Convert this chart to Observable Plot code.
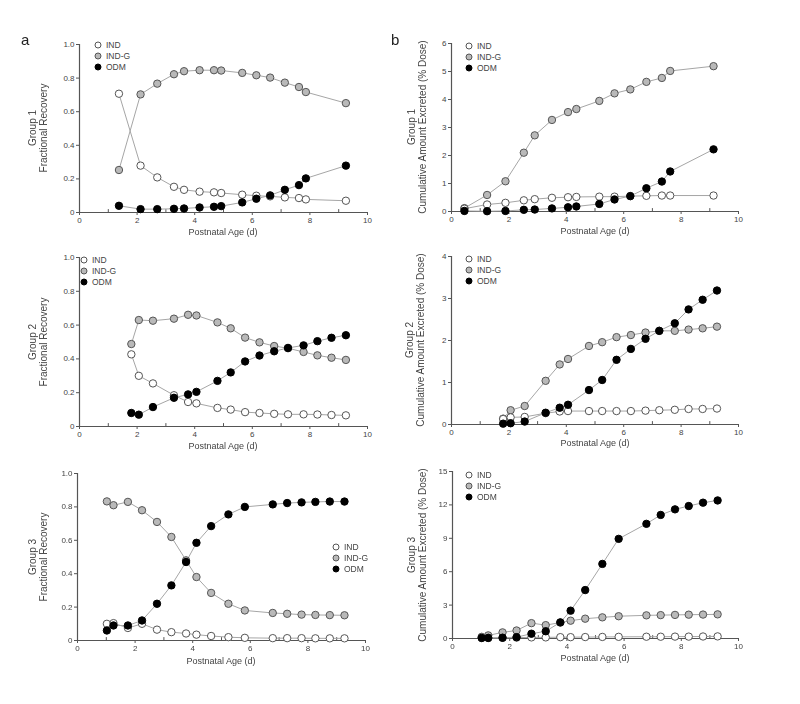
<!DOCTYPE html>
<html>
<head>
<meta charset="utf-8">
<script src="https://cdn.jsdelivr.net/npm/d3@7"></script>
<script src="https://cdn.jsdelivr.net/npm/@observablehq/plot@0.6"></script>
<style>
  html, body { margin: 0; padding: 0; background: #fff; }
  body { width: 800px; height: 704px; position: relative; overflow: hidden;
         font-family: Arial, "Liberation Sans", sans-serif; color: #444; }
  .panel { position: absolute; }
  .ylab { position: absolute; width: 200px; height: 22px; transform: rotate(-90deg);
          text-align: center; font-size: 10px; line-height: 11px; white-space: nowrap; color: #444; will-change: transform; }
  .xlab { position: absolute; width: 200px; text-align: center; font-size: 9px; line-height: 10px; color: #444; will-change: transform; }
  .leg { position: absolute; overflow: visible; }
  .letter { position: absolute; font-size: 15px; line-height: 15px; color: #222; will-change: transform; }
</style>
</head>
<body>
<script>
// ---------- data ----------
const seriesNames = ["IND", "IND-G", "ODM"];
const xTicks = [0, 2, 4, 6, 8, 10];
const xMinorTicks = [1, 3, 5, 7, 9];
const yTicksA = [0, 0.2, 0.4, 0.6, 0.8, 1.0];
const yTicksB1 = [0, 1, 2, 3, 4, 5, 6];
const yTicksB2 = [0, 1, 2, 3, 4];
const yTicksB3 = [0, 3, 6, 9, 12, 15];
const groupLabels = ["Group 1", "Group 2", "Group 3"];
const yTitleA = "Fractional Recovery";
const yTitleB = "Cumulative Amount Excreted (% Dose)";
const xTitle = "Postnatal Age (d)";

// Group 1 – fractional recovery (a)
const ageA1  = [1.37, 2.12, 2.70, 3.28, 3.63, 4.17, 4.67, 4.92, 5.65, 6.14, 6.62, 7.13, 7.62, 7.86, 9.25];
const indA1  = [0.707, 0.279, 0.209, 0.153, 0.135, 0.124, 0.120, 0.116, 0.106, 0.100, 0.096, 0.090, 0.086, 0.078, 0.070];
const indgA1 = [0.253, 0.703, 0.767, 0.823, 0.841, 0.847, 0.847, 0.845, 0.831, 0.817, 0.803, 0.773, 0.747, 0.717, 0.651];
const odmA1  = [0.040, 0.020, 0.020, 0.022, 0.024, 0.030, 0.034, 0.038, 0.060, 0.082, 0.102, 0.135, 0.163, 0.203, 0.279];

// Group 1 – cumulative amount (b)
const ageB1  = [0.45, 1.24, 1.88, 2.52, 2.90, 3.50, 4.06, 4.35, 5.15, 5.68, 6.23, 6.79, 7.33, 7.62, 9.13];
const indB1  = [0.10, 0.25, 0.31, 0.40, 0.44, 0.49, 0.51, 0.52, 0.53, 0.53, 0.55, 0.56, 0.57, 0.57, 0.57];
const indgB1 = [0.12, 0.59, 1.08, 2.10, 2.72, 3.27, 3.55, 3.66, 3.95, 4.22, 4.36, 4.63, 4.77, 5.02, 5.19];
const odmB1  = [0.02, 0.01, 0.02, 0.06, 0.07, 0.11, 0.15, 0.18, 0.27, 0.43, 0.55, 0.83, 1.07, 1.43, 2.22];

// Group 2 – fractional recovery (a)
const ageA2  = [1.80, 2.06, 2.55, 3.28, 3.77, 4.06, 4.79, 5.25, 5.75, 6.25, 6.76, 7.24, 7.78, 8.26, 8.75, 9.25];
const indA2  = [0.427, 0.300, 0.255, 0.185, 0.145, 0.137, 0.110, 0.100, 0.085, 0.080, 0.075, 0.072, 0.072, 0.071, 0.068, 0.066];
const indgA2 = [0.488, 0.630, 0.626, 0.638, 0.661, 0.657, 0.616, 0.581, 0.526, 0.498, 0.476, 0.463, 0.441, 0.421, 0.407, 0.394];
const odmA2  = [0.080, 0.070, 0.115, 0.170, 0.190, 0.205, 0.270, 0.320, 0.385, 0.420, 0.445, 0.465, 0.480, 0.505, 0.525, 0.540];

// Group 2 – cumulative amount (b)
const ageB2  = [1.80, 2.06, 2.55, 3.28, 3.77, 4.06, 4.79, 5.25, 5.75, 6.25, 6.76, 7.24, 7.78, 8.26, 8.75, 9.25];
const indB2  = [0.13, 0.17, 0.18, 0.27, 0.31, 0.32, 0.32, 0.32, 0.32, 0.32, 0.33, 0.34, 0.35, 0.37, 0.37, 0.38];
const indgB2 = [0.14, 0.34, 0.44, 1.04, 1.43, 1.56, 1.87, 1.96, 2.08, 2.13, 2.19, 2.23, 2.23, 2.26, 2.29, 2.33];
const odmB2  = [0.02, 0.03, 0.07, 0.28, 0.40, 0.47, 0.82, 1.06, 1.54, 1.80, 2.04, 2.23, 2.41, 2.74, 2.97, 3.19];

// Group 3 – fractional recovery (a)
const ageA3  = [1.02, 1.25, 1.75, 2.24, 2.76, 3.26, 3.77, 4.13, 4.64, 5.24, 5.81, 6.78, 7.28, 7.78, 8.26, 8.76, 9.27];
const indA3  = [0.100, 0.104, 0.075, 0.100, 0.065, 0.050, 0.042, 0.035, 0.027, 0.020, 0.016, 0.014, 0.014, 0.014, 0.013, 0.013, 0.013];
const indgA3 = [0.833, 0.810, 0.830, 0.780, 0.710, 0.620, 0.480, 0.380, 0.285, 0.220, 0.180, 0.165, 0.160, 0.155, 0.153, 0.152, 0.151];
const odmA3  = [0.060, 0.090, 0.090, 0.120, 0.220, 0.330, 0.470, 0.585, 0.685, 0.755, 0.800, 0.815, 0.823, 0.827, 0.830, 0.832, 0.832];

// Group 3 – cumulative amount (b)
const ageB3  = [1.02, 1.25, 1.75, 2.24, 2.76, 3.26, 3.77, 4.13, 4.64, 5.24, 5.81, 6.78, 7.28, 7.78, 8.26, 8.76, 9.27];
const indB3  = [0.05, 0.06, 0.06, 0.08, 0.10, 0.10, 0.12, 0.12, 0.13, 0.14, 0.15, 0.16, 0.16, 0.17, 0.17, 0.18, 0.19];
const indgB3 = [0.15, 0.28, 0.55, 0.72, 1.38, 1.20, 1.43, 1.60, 1.78, 1.90, 2.00, 2.08, 2.10, 2.12, 2.14, 2.15, 2.17];
const odmB3  = [0.05, 0.05, 0.07, 0.12, 0.43, 0.65, 1.45, 2.50, 4.35, 6.70, 8.95, 10.3, 11.1, 11.6, 11.9, 12.2, 12.4];

// ---------- styling ----------
const FILL = {"IND": "#ffffff", "IND-G": "#b9b9b9", "ODM": "#000000"};
const STROKE = {"IND": "#555555", "IND-G": "#555555", "ODM": "#000000"};
const AXIS = "#555";
const FONT = "Arial, 'Liberation Sans', sans-serif";
const fmtA = d => d === 0 ? "0" : d.toFixed(1);
const fmtB = d => String(d);
const upTick = {draw(context, l) { context.moveTo(0, 0); context.lineTo(0, -l); }};

function el(cls, text, style) {
  const d = document.createElement("div");
  d.className = cls;
  if (text != null) d.textContent = text;
  Object.assign(d.style, style);
  document.body.appendChild(d);
  return d;
}

function panel(cfg) {
  const {left, top, ml, pw, mt, ph, mb, age, ind, indg, odm, yDomain, yTicks, yFmt,
         group, yTitle, legend} = cfg;
  const width = 390;
  const height = mt + ph + mb;
  const rows = (name, vals) => age.map((a, i) => ({age: a, value: vals[i], s: name}));
  const dIND = rows("IND", ind), dINDG = rows("IND-G", indg), dODM = rows("ODM", odm);
  const dot = (data, s) => Plot.dot(data, {x: "age", y: "value", r: 3.7, fill: FILL[s], stroke: STROKE[s], strokeWidth: 1});
  const line = data => Plot.line(data, {x: "age", y: "value", stroke: "#a6a6a6", strokeWidth: 1});
  const chart = Plot.plot({
    width, height,
    marginLeft: ml, marginRight: width - ml - pw, marginTop: mt, marginBottom: mb,
    style: {background: "transparent", fontFamily: FONT, fontSize: "8px", color: "#444", overflow: "visible"},
    x: {domain: [0, 10]},
    y: {domain: yDomain},
    marks: [
      Plot.axisX({ticks: xTicks, tickSize: 3, tickPadding: 2, tickFormat: fmtB, label: null, stroke: AXIS}),
      Plot.vector(xMinorTicks, {x: d => d, y: () => yDomain[0], length: 3, anchor: "start", shape: upTick, stroke: AXIS, strokeWidth: 1}),
      Plot.axisY({ticks: yTicks, tickSize: 3, tickPadding: 2, tickFormat: yFmt, label: null, stroke: AXIS}),
      Plot.ruleX([0], {stroke: AXIS, strokeWidth: 1.2}),
      Plot.ruleY([yDomain[0]], {stroke: AXIS, strokeWidth: 1.2}),
      line(dIND), line(dINDG), line(dODM),
      dot(dINDG, "IND-G"), dot(dIND, "IND"), dot(dODM, "ODM")
    ]
  });
  chart.classList.add("panel");
  chart.style.left = left + "px";
  chart.style.top = top + "px";
  document.body.appendChild(chart);

  // y title (two lines, rotated)
  const cy = top + mt + ph / 2;
  const yl = el("ylab", null, {left: (left + cfg.ylabX - 100) + "px", top: (cy - 11) + "px"});
  const l1 = document.createElement("div"); l1.textContent = group; yl.appendChild(l1);
  const l2 = document.createElement("div"); l2.textContent = yTitle; yl.appendChild(l2);

  // x title
  el("xlab", xTitle, {left: (left + ml + pw / 2 - 100) + "px", top: (top + mt + ph + cfg.xlabDy - 5) + "px"});

  // legend (small SVG)
  const svg = d3.create("svg").attr("class", "leg").attr("width", 50).attr("height", 36)
    .style("left", (left + legend[0] - 5) + "px").style("top", (top + legend[1] - 6) + "px")
    .style("font-family", FONT).style("font-size", "8.5px");
  seriesNames.forEach((s, i) => {
    svg.append("circle").attr("cx", 5).attr("cy", 6 + 11 * i).attr("r", 3)
      .attr("fill", FILL[s]).attr("stroke", STROKE[s]).attr("stroke-width", 1);
    svg.append("text").attr("x", 13).attr("y", 6 + 11 * i).attr("dy", "0.35em")
      .attr("fill", "#444").text(s);
  });
  document.body.appendChild(svg.node());
}

panel({left: 0, top: 30, ml: 79, pw: 288, mt: 14, ph: 168, mb: 30,
  age: ageA1, ind: indA1, indg: indgA1, odm: odmA1, yDomain: [0, 1], yTicks: yTicksA, yFmt: fmtA,
  group: groupLabels[0], yTitle: yTitleA, ylabX: 38, xlabDy: 20, legend: [98, 15]});
panel({left: 390, top: 30, ml: 61, pw: 287, mt: 13, ph: 168, mb: 30,
  age: ageB1, ind: indB1, indg: indgB1, odm: odmB1, yDomain: [0, 6], yTicks: yTicksB1, yFmt: fmtB,
  group: groupLabels[0], yTitle: yTitleB, ylabX: 27, xlabDy: 20, legend: [79, 16]});
panel({left: 0, top: 240, ml: 79, pw: 288, mt: 17, ph: 169, mb: 30,
  age: ageA2, ind: indA2, indg: indgA2, odm: odmA2, yDomain: [0, 1], yTicks: yTicksA, yFmt: fmtA,
  group: groupLabels[1], yTitle: yTitleA, ylabX: 38, xlabDy: 20, legend: [84, 20]});
panel({left: 390, top: 240, ml: 61, pw: 287, mt: 16, ph: 168, mb: 30,
  age: ageB2, ind: indB2, indg: indgB2, odm: odmB2, yDomain: [0, 4], yTicks: yTicksB2, yFmt: fmtB,
  group: groupLabels[1], yTitle: yTitleB, ylabX: 25, xlabDy: 19, legend: [79, 19]});
panel({left: 0, top: 450, ml: 77, pw: 288, mt: 23, ph: 167, mb: 30,
  age: ageA3, ind: indA3, indg: indgA3, odm: odmA3, yDomain: [0, 1], yTicks: yTicksA, yFmt: fmtA,
  group: groupLabels[2], yTitle: yTitleA, ylabX: 38, xlabDy: 21, legend: [336, 97]});
panel({left: 390, top: 450, ml: 62, pw: 286, mt: 21, ph: 167, mb: 30,
  age: ageB3, ind: indB3, indg: indgB3, odm: odmB3, yDomain: [0, 15], yTicks: yTicksB3, yFmt: fmtB,
  group: groupLabels[2], yTitle: yTitleB, ylabX: 27, xlabDy: 20, legend: [79, 25]});

el("letter", "a", {left: "21px", top: "32px"});
el("letter", "b", {left: "391px", top: "32px"});
</script>
</body>
</html>
